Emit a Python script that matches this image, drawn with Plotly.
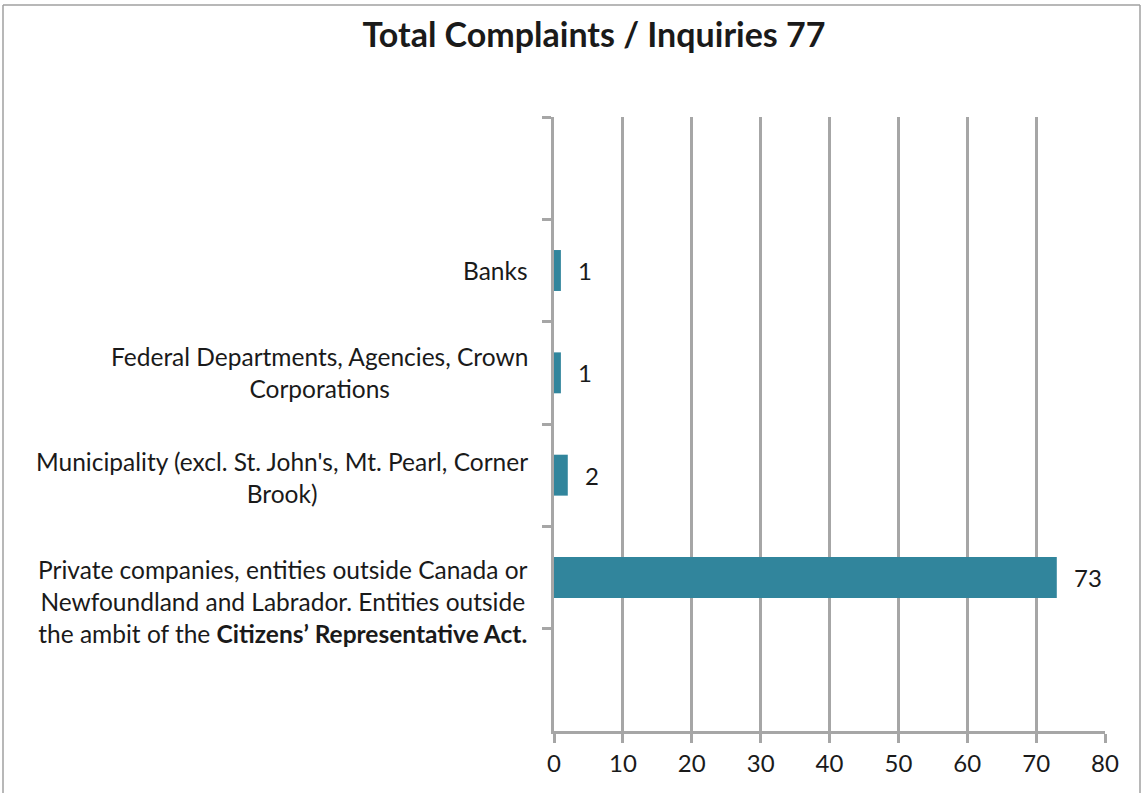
import plotly.graph_objects as go

categories = [
    "Banks",
    "Federal Departments, Agencies, Crown<br>Corporations",
    "Municipality (excl. St. John's, Mt. Pearl, Corner<br>Brook)",
    "Private companies, entities outside Canada or<br>Newfoundland and Labrador. Entities outside<br>the ambit of the <b>Citizens\u2019 Representative Act.</b>",
]
values = [1, 1, 2, 73]
empty_slots = [" ", "  "]
axis_slots = [empty_slots[0], *categories, empty_slots[1]]
x_ticks = [0, 10, 20, 30, 40, 50, 60, 70, 80]
title_text = "Total Complaints / Inquiries 77"

BAR = "#31859C"
GRID = "#A6A6A6"
TXT = "#1a1a1a"
FONT = "Lato"

W, H = 1143, 793
L, R, T, B = 554, 1105, 117, 731

fig = go.Figure()
fig.add_trace(go.Bar(
    x=values, y=categories, orientation="h",
    marker=dict(color=BAR, line=dict(width=0)),
    hoverinfo="x+y",
))
# empty category slots (no bars)
fig.add_trace(go.Bar(
    x=[None, None], y=empty_slots, orientation="h",
    marker=dict(color=BAR), hoverinfo="skip", showlegend=False,
))

def px2paper_x(px):
    return (px - L) / (R - L)

def px2paper_y(py):
    return (B - py) / (B - T)

annotations = []
yshifts = [0, 0, -2, -24]
for cat, ys in zip(categories, yshifts):
    annotations.append(dict(
        x=0, xref="paper", y=cat, yref="y", text=cat, showarrow=False,
        xanchor="right", yanchor="middle", align="center", xshift=-24, yshift=ys,
        font=dict(family=FONT, size=24.5, color=TXT),
    ))
for cat, v in zip(categories, values):
    annotations.append(dict(
        x=v, xref="x", y=cat, yref="y", text=str(v), showarrow=False,
        xanchor="left", yanchor="middle", xshift=15,
        font=dict(family=FONT, size=24, color=TXT),
    ))

shapes = [
    dict(type="line", xref="paper", yref="paper",
         x0=px2paper_x(3), x1=px2paper_x(3), y0=px2paper_y(5), y1=px2paper_y(800),
         line=dict(color="#A0A0A0", width=1.5)),
    dict(type="line", xref="paper", yref="paper",
         x0=px2paper_x(3), x1=px2paper_x(1140), y0=px2paper_y(5), y1=px2paper_y(5),
         line=dict(color="#A0A0A0", width=1.5)),
    dict(type="line", xref="paper", yref="paper",
         x0=px2paper_x(1140), x1=px2paper_x(1140), y0=px2paper_y(5), y1=px2paper_y(800),
         line=dict(color="#A0A0A0", width=1.5)),
]

fig.update_layout(
    width=W, height=H,
    margin=dict(l=L, r=W - R, t=T, b=H - B, pad=0),
    paper_bgcolor="white", plot_bgcolor="white",
    showlegend=False,
    barmode="overlay",
    bargap=0.6,
    title=dict(text="<b>" + title_text + "</b>", x=594 / W, xanchor="center",
               y=1 - 35 / H, yanchor="middle",
               font=dict(family=FONT, size=34, color=TXT)),
    xaxis=dict(
        range=[0, 80], tickvals=x_ticks, ticktext=[str(t) for t in x_ticks],
        showgrid=True, gridcolor=GRID, gridwidth=2.5,
        showline=True, linecolor=GRID, linewidth=2.5,
        ticks="outside", ticklen=9, tickwidth=2.5, tickcolor=GRID,
        zeroline=False,
        tickfont=dict(family=FONT, size=24, color=TXT),
        fixedrange=True,
    ),
    yaxis=dict(
        type="category", categoryorder="array", categoryarray=axis_slots,
        autorange="reversed",
        showline=True, linecolor=GRID, linewidth=2.5,
        ticks="outside", ticklen=9, tickwidth=2.5, tickcolor=GRID,
        tickson="boundaries", showticklabels=False,
        showgrid=False, zeroline=False, fixedrange=True,
    ),
    annotations=annotations,
    shapes=shapes,
)

fig.write_html("out.html", config={"displayModeBar": False},
               post_script="document.body.style.margin='0';")
